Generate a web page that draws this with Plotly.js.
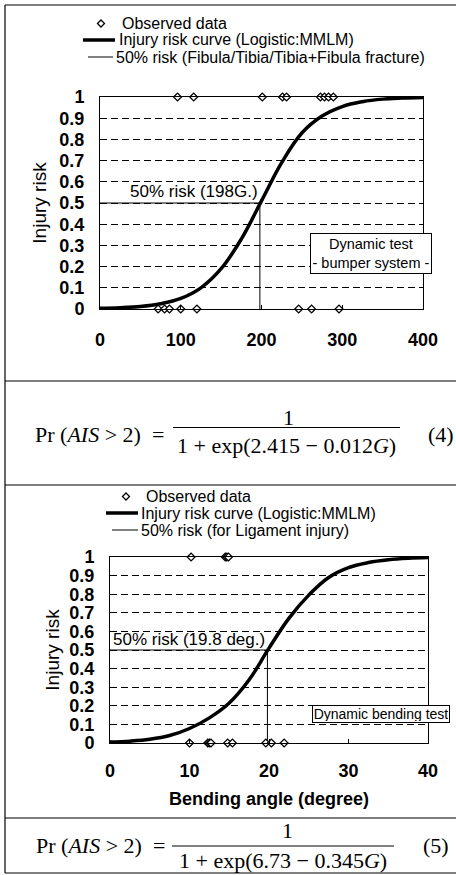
<!DOCTYPE html>
<html><head><meta charset="utf-8">
<script src="https://cdn.plot.ly/plotly-3.0.1.min.js"></script>
<style>html,body{margin:0;padding:0;background:#fff}#chart{width:456px;height:875px}</style>
</head><body><div id="chart"></div>
<script>
// ---------- data ----------
// Panel 1: acceleration G (bumper system)
const gLevels = [0,25,50,75,100,125,150,175,200,225,250,275,300,325,350,375,400];
const gRisk   = [0.003,0.006,0.012,0.025,0.05,0.1,0.19,0.33,0.51,0.69,0.83,0.91,0.955,0.978,0.99,0.995,0.998];
const gInjured    = [96,116,201,226,231,273,278,283,289];
const gNonInjured = [72,80,86,100,120,246,262,296];
const g50 = 198;
// Panel 2: bending angle (degree)
const aLevels = [0,2.5,5,7.5,10,12.5,15,17.5,20,22.5,25,27.5,30,32.5,35,37.5,40];
const aRisk   = [0.005,0.01,0.02,0.04,0.078,0.135,0.215,0.34,0.51,0.67,0.795,0.89,0.943,0.97,0.985,0.993,0.997];
const aInjured    = [10.2,14.5,14.7,14.9];
const aNonInjured = [10.0,12.3,12.5,12.7,14.8,15.4,19.6,20.3,21.9];
const a50 = 19.8;
// ticks
const xTicksTop = [0,100,200,300,400];
const xTicksBottom = [0,10,20,30,40];
const yTicks = [0,0.1,0.2,0.3,0.4,0.5,0.6,0.7,0.8,0.9,1];
const yTickLabels = ['0','0.1','0.2','0.3','0.4','0.5','0.6','0.7','0.8','0.9','1'];
// texts
const legendTop = ['Observed data','Injury risk curve (Logistic:MMLM)','50% risk (Fibula/Tibia/Tibia+Fibula fracture)'];
const legendBottom = ['Observed data','Injury risk curve (Logistic:MMLM)','50% risk (for Ligament injury)'];

// ---------- helpers ----------
const W = 456, H = 875;
const px = x => x / W;
const py = y => 1 - y / H;
const SANS = 'Liberation Sans, Arial, sans-serif';
const SERIF = 'Liberation Serif, Times New Roman, serif';

function obs(xInj, xNon, xa, ya) {
  return {
    x: xInj.concat(xNon),
    y: xInj.map(() => 1).concat(xNon.map(() => 0)),
    xaxis: xa, yaxis: ya, mode: 'markers', type: 'scatter', cliponaxis: false,
    marker: {symbol: 'diamond', size: 6, color: '#fff', line: {color: '#000', width: 1.3}},
    showlegend: false, hoverinfo: 'x+y'
  };
}
function curve(x, y, xa, ya) {
  return {x: x, y: y, xaxis: xa, yaxis: ya, mode: 'lines', type: 'scatter', cliponaxis: false,
    line: {color: '#000', width: 3.5, shape: 'spline', smoothing: 1.1}, showlegend: false};
}
function half(x50, xa, ya) {
  return {x: [0, x50, x50], y: [0.5, 0.5, 0], xaxis: xa, yaxis: ya, mode: 'lines', type: 'scatter',
    line: {color: '#000', width: 1}, showlegend: false};
}

const traces = [
  half(g50, 'x', 'y'), curve(gLevels, gRisk, 'x', 'y'), obs(gInjured, gNonInjured, 'x', 'y'),
  half(a50, 'x2', 'y2'), curve(aLevels, aRisk, 'x2', 'y2'), obs(aInjured, aNonInjured, 'x2', 'y2')
];

const tickFont = {family: SANS, size: 18, color: '#000', weight: 'bold'};
function xax(domain, range, ticks, title, lblStandoff) {
  return {domain: domain, range: range, tickvals: ticks, ticktext: ticks.map(String),
    showline: true, linecolor: '#000', linewidth: 1, mirror: true, showgrid: false, zeroline: false,
    ticks: 'inside', ticklen: 4, tickcolor: '#000', tickfont: tickFont, ticklabelstandoff: lblStandoff,
    fixedrange: true,
    title: title ? {text: title, font: {family: SANS, size: 18, color: '#000', weight: 'bold'}, standoff: 12} : {text: ''}};
}
function yax(domain, standoff) {
  return {domain: domain, range: [0, 1], tickvals: yTicks, ticktext: yTickLabels,
    showline: true, linecolor: '#000', linewidth: 1, mirror: true,
    showgrid: true, gridcolor: '#000', gridwidth: 1, griddash: '7px,4px', zeroline: false,
    ticks: '', tickfont: tickFont, ticklabelstandoff: 11, fixedrange: true,
    title: {text: 'Injury risk', font: {family: SANS, size: 19, color: '#000'}, standoff: standoff}};
}

// legend drawn as paper shapes + text
function legendShapes(d, l2, l3) {
  const s = 3.5;
  return [
    {type: 'path', xref: 'paper', yref: 'paper',
     path: `M${px(d[0]-s)},${py(d[1])} L${px(d[0])},${py(d[1]-s)} L${px(d[0]+s)},${py(d[1])} L${px(d[0])},${py(d[1]+s)} Z`,
     line: {color: '#000', width: 1.3}, fillcolor: '#fff'},
    {type: 'line', xref: 'paper', yref: 'paper', x0: px(l2[0]), x1: px(l2[1]), y0: py(l2[2]), y1: py(l2[2]),
     line: {color: '#000', width: 3.5}},
    {type: 'line', xref: 'paper', yref: 'paper', x0: px(l3[0]), x1: px(l3[1]), y0: py(l3[2]), y1: py(l3[2]),
     line: {color: '#000', width: 1}}
  ];
}
function legendText(texts, xs, ys) {
  return texts.map((t, i) => ({text: t, xref: 'paper', yref: 'paper', x: px(xs[i]), y: py(ys[i]),
    xanchor: 'left', yanchor: 'middle', showarrow: false, font: {family: SANS, size: 16, color: '#000'}}));
}
function hline(y, x0, x1) {
  return {type: 'line', xref: 'paper', yref: 'paper', x0: px(x0), x1: px(x1), y0: py(y), y1: py(y), line: {color: '#000', width: 1.2}};
}
function vline(x, y0, y1) {
  return {type: 'line', xref: 'paper', yref: 'paper', x0: px(x), x1: px(x), y0: py(y0), y1: py(y1), line: {color: '#000', width: 1.2}};
}

const shapes = [
  hline(5, 5, 456), hline(381, 5, 456), hline(485, 5, 456), hline(818, 5, 456), hline(873, 5, 456),
  vline(5, 5, 873),
  // fraction bars
  {type: 'line', xref: 'paper', yref: 'paper', x0: px(173), x1: px(400), y0: py(427.5), y1: py(427.5), line: {color: '#000', width: 1}},
  {type: 'line', xref: 'paper', yref: 'paper', x0: px(172), x1: px(394), y0: py(846), y1: py(846), line: {color: '#000', width: 1}}
].concat(legendShapes([101, 23.5], [83, 115, 40], [88, 113, 57]))
 .concat(legendShapes([126, 496.5], [106, 138, 513], [112, 138, 530]));

const eqFont = {family: SERIF, size: 22, color: '#000'};
const NB = '\u00a0';
const annotations = [
  ...legendText(legendTop, [120, 117, 114], [23.5, 40, 57]),
  ...legendText(legendBottom, [144, 139, 139], [496.5, 513, 530]),
  {text: '50% risk (198G.)', xref: 'x', yref: 'y', x: g50, y: 0.555, xanchor: 'right', yanchor: 'middle',
   showarrow: false, font: {family: SANS, size: 17, color: '#000'}},
  {text: '50% risk (19.8 deg.)', xref: 'x2', yref: 'y2', x: a50, y: 0.555, xanchor: 'right', yanchor: 'middle',
   showarrow: false, font: {family: SANS, size: 17, color: '#000'}},
  {text: 'Dynamic test<br>- bumper system -', xref: 'paper', yref: 'paper', x: px(371), y: py(253.5),
   xanchor: 'center', yanchor: 'middle', showarrow: false, align: 'center', width: 118, height: 37,
   bgcolor: '#fff', bordercolor: '#000', borderwidth: 1, borderpad: 1,
   font: {family: SANS, size: 14.5, color: '#000'}},
  {text: 'Dynamic bending test', xref: 'paper', yref: 'paper', x: px(381), y: py(713.5),
   xanchor: 'center', yanchor: 'middle', showarrow: false, width: 134, height: 14,
   bgcolor: '#fff', bordercolor: '#000', borderwidth: 1, borderpad: 1,
   font: {family: SANS, size: 14, color: '#000'}},
  // equations
  {text: 'Pr' + NB + '(<i>AIS</i>' + NB + '>' + NB + '2)' + NB + NB + '=', xref: 'paper', yref: 'paper', x: px(33), y: py(435),
   xanchor: 'left', yanchor: 'middle', showarrow: false, font: eqFont},
  {text: '1', xref: 'paper', yref: 'paper', x: px(288), y: py(417), xanchor: 'center', yanchor: 'middle', showarrow: false, font: eqFont},
  {text: '1' + NB + '+' + NB + 'exp(2.415' + NB + '\u2212' + NB + '0.012<i>G</i>)', xref: 'paper', yref: 'paper', x: px(286), y: py(445),
   xanchor: 'center', yanchor: 'middle', showarrow: false, font: eqFont},
  {text: '(4)', xref: 'paper', yref: 'paper', x: px(426), y: py(435), xanchor: 'left', yanchor: 'middle', showarrow: false, font: eqFont},
  {text: 'Pr' + NB + '(<i>AIS</i>' + NB + '>' + NB + '2)' + NB + NB + '=', xref: 'paper', yref: 'paper', x: px(34), y: py(845),
   xanchor: 'left', yanchor: 'middle', showarrow: false, font: eqFont},
  {text: '1', xref: 'paper', yref: 'paper', x: px(287), y: py(830), xanchor: 'center', yanchor: 'middle', showarrow: false, font: eqFont},
  {text: '1' + NB + '+' + NB + 'exp(6.73' + NB + '\u2212' + NB + '0.345<i>G</i>)', xref: 'paper', yref: 'paper', x: px(283), y: py(860),
   xanchor: 'center', yanchor: 'middle', showarrow: false, font: eqFont},
  {text: '(5)', xref: 'paper', yref: 'paper', x: px(421), y: py(845), xanchor: 'left', yanchor: 'middle', showarrow: false, font: eqFont}
];

const layout = {
  width: W, height: H, margin: {l: 0, r: 0, t: 0, b: 0},
  paper_bgcolor: '#fff', plot_bgcolor: '#fff', showlegend: false,
  xaxis: xax([px(100), px(423)], [0, 400], xTicksTop, null, 14),
  yaxis: yax([py(309), py(97)], 7),
  xaxis2: xax([px(110), px(428)], [0, 40], xTicksBottom, 'Bending angle (degree)', 11),
  yaxis2: Object.assign(yax([py(743), py(557)], 4), {anchor: 'x2'}),
  shapes: shapes, annotations: annotations
};
layout.xaxis2.anchor = 'y2';

Plotly.newPlot('chart', traces, layout, {displayModeBar: false, staticPlot: true});
</script>
</body></html>
